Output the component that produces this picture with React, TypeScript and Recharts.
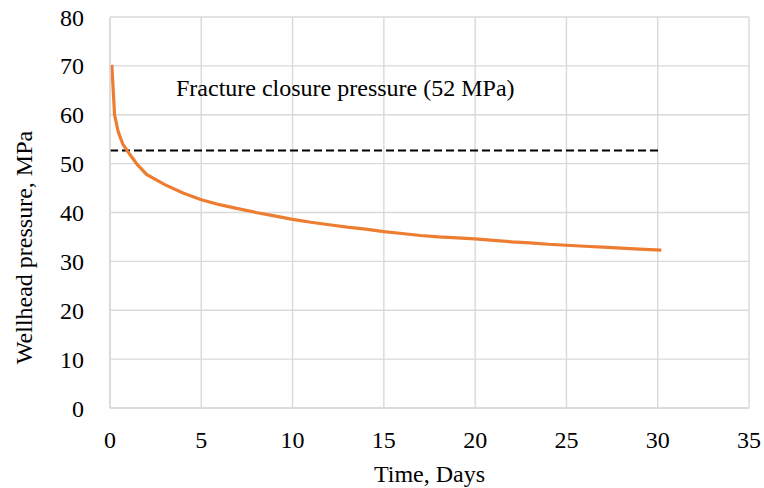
import React from "react";
import { LineChart, Line, XAxis, YAxis, CartesianGrid, ReferenceLine, Label } from "recharts";

const days = [0.1, 0.25, 0.45, 0.7, 1.1, 1.5, 2.0, 3.0, 4.0, 5.0, 6.0, 7.0, 8.0, 9.0, 10.0, 11.0, 12.0, 13.0, 14.0, 15.0, 16.0, 17.0, 18.0, 19.0, 20.0, 21.0, 22.0, 23.0, 24.0, 25.0, 26.0, 27.0, 28.0, 29.0, 30.2];
const pressure = [70.2, 60.0, 56.5, 54.0, 51.8, 49.8, 47.8, 45.7, 44.0, 42.6, 41.6, 40.8, 40.0, 39.3, 38.6, 38.0, 37.5, 37.0, 36.6, 36.1, 35.7, 35.3, 35.0, 34.8, 34.6, 34.3, 34.0, 33.8, 33.5, 33.3, 33.1, 32.9, 32.7, 32.5, 32.3];
const closurePressure = 52.7;
const closureStart = 0;
const closureEnd = 30.2;
const closureText = "Fracture closure pressure (52 MPa)";
const xTicks = [0, 5, 10, 15, 20, 25, 30, 35];
const yTicks = [0, 10, 20, 30, 40, 50, 60, 70, 80];
const xTitle = "Time, Days";
const yTitle = "Wellhead pressure, MPa";

const data = days.map((t, i) => ({ t, p: pressure[i] }));

const font = "'Liberation Serif', 'Times New Roman', serif";
const fs = 24;

export default function App() {
  return (
    <div style={{ position: "absolute", left: 0, top: 0, width: 764, height: 488, background: "#fff" }}>
      <LineChart width={764} height={488} data={data} margin={{ top: 17, right: 15, bottom: 0, left: 0 }}>
        <CartesianGrid stroke="#d9d9d9" strokeWidth={1.4} />
        <XAxis
          dataKey="t"
          type="number"
          domain={[0, 35]}
          ticks={xTicks}
          tickLine={false}
          axisLine={{ stroke: "#d9d9d9", strokeWidth: 1.4 }}
          tick={{ fill: "#000", fontSize: fs, fontFamily: font }}
          tickMargin={17}
          height={80}
        >
          <Label value={xTitle} position="insideBottom" offset={6} style={{ fill: "#000", fontSize: fs, fontFamily: font }} />
        </XAxis>
        <YAxis
          type="number"
          domain={[0, 80]}
          ticks={yTicks}
          tickLine={false}
          axisLine={{ stroke: "#d9d9d9", strokeWidth: 1.4 }}
          tick={{ fill: "#000", fontSize: fs, fontFamily: font }}
          tickMargin={20}
          width={110}
        >
          <Label
            content={(props: any) => {
              const vb = props.viewBox || { x: 0, y: 17, width: 110, height: 391 };
              const cx = vb.x + 24;
              const cy = vb.y + vb.height / 2 + 35;
              return (
                <text
                  x={cx}
                  y={cy}
                  transform={`rotate(-90 ${cx} ${cy})`}
                  textAnchor="middle"
                  dominantBaseline="central"
                  fill="#000"
                  fontSize={fs}
                  fontFamily={font}
                >
                  {yTitle}
                </text>
              );
            }}
          />
        </YAxis>
        <ReferenceLine
          segment={[{ x: closureStart, y: closurePressure }, { x: closureEnd, y: closurePressure }]}
          stroke="#000"
          strokeWidth={2}
          strokeDasharray="8 4"
          label={(props: any) => {
            const vb = props.viewBox || {};
            return (
              <text x={(vb.x ?? 110) + 66} y={(vb.y ?? 150) - 54} fill="#000" fontSize={fs} fontFamily={font}>
                {closureText}
              </text>
            );
          }}
        />
        <Line type="linear" dataKey="p" stroke="#ED7D31" strokeWidth={3.2} dot={false} isAnimationActive={false} />
      </LineChart>
    </div>
  );
}
